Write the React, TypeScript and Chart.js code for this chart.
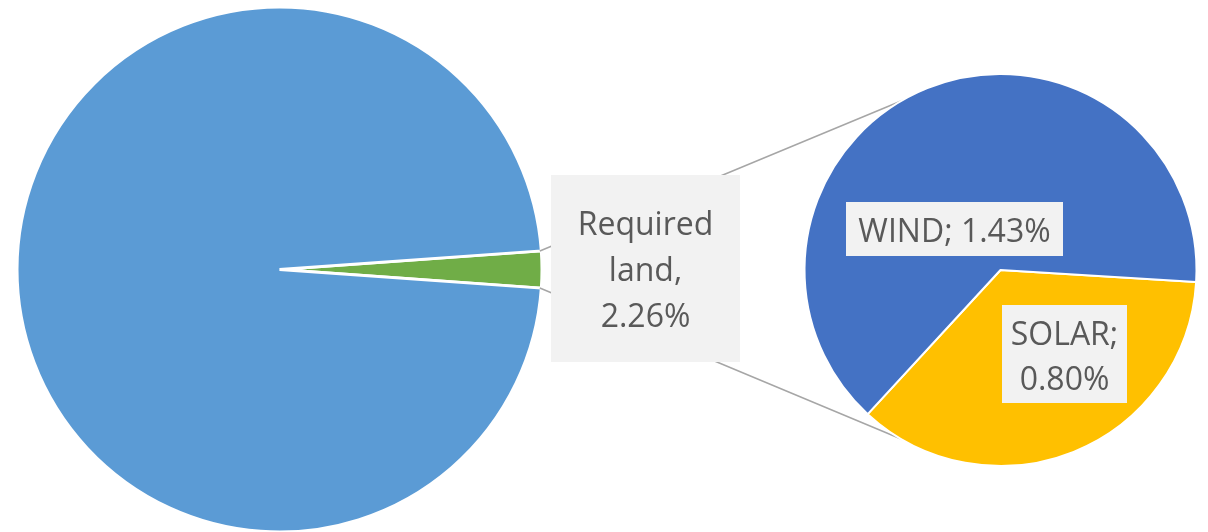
import React, { useEffect, useRef } from "react";
import { Chart, registerables } from "chart.js";
Chart.register(...registerables);

const mainCategories = ["Required land", "Other land"];
const mainValues = [2.26, 97.74];
const subCategories = ["SOLAR", "WIND"];
const subValues = [0.8, 1.43];

const W = 1208;
const H = 532;
const CH = 540;
const FONT = '"Open Sans", "Liberation Sans", sans-serif';
const TEXT = "#595959";
const BOX = "#f2f2f2";
const LINE = "#a6a6a6";

const fmt = (v: number) => v.toFixed(2) + "%";

export default function App() {
  const bigRef = useRef<HTMLCanvasElement>(null);
  const smallRef = useRef<HTMLCanvasElement>(null);

  useEffect(() => {
    const total = mainValues.reduce((a, b) => a + b, 0);
    const reqSpan = (mainValues[0] / total) * 360;
    const bigBW = 3;
    const bigSize = 528;
    const big = new Chart(bigRef.current!, {
      type: "pie",
      data: {
        labels: mainCategories,
        datasets: [
          {
            data: mainValues,
            backgroundColor: ["#70ad47", "#5b9bd5"],
            borderColor: "#ffffff",
            borderWidth: bigBW,
          },
        ],
      },
      options: {
        responsive: false,
        animation: false,
        events: [],
        rotation: 90 - reqSpan / 2,
        layout: {
          padding: { left: 15.5, top: 5.5, right: W - 15.5 - bigSize, bottom: CH - 5.5 - bigSize },
        },
        plugins: { legend: { display: false }, tooltip: { enabled: false } },
      },
    });

    const smallBW = 2;
    const smallSize = 394;
    const connectorAngle = (117.8 * Math.PI) / 180;

    const drawBoxText = (
      ctx: CanvasRenderingContext2D,
      box: [number, number, number, number],
      cx: number,
      lines: string[],
      baselines: number[]
    ) => {
      ctx.fillStyle = BOX;
      ctx.fillRect(box[0], box[1], box[2], box[3]);
      ctx.fillStyle = TEXT;
      ctx.font = `32px ${FONT}`;
      ctx.textAlign = "center";
      ctx.textBaseline = "alphabetic";
      lines.forEach((l, i) => ctx.fillText(l, cx, baselines[i]));
    };

    const pieOfPie = {
      id: "pieOfPie",
      beforeDatasetsDraw(chart: any) {
        const ctx = chart.ctx as CanvasRenderingContext2D;
        const g = big.getDatasetMeta(0).data[0] as any;
        const rg = g.outerRadius - bigBW / 2;
        const s = chart.getDatasetMeta(0).data[0] as any;
        const rs = s.outerRadius - smallBW / 2;
        ctx.save();
        ctx.strokeStyle = LINE;
        ctx.lineWidth = 1.5;
        ctx.beginPath();
        ctx.moveTo(g.x + rg * Math.cos(g.startAngle), g.y + rg * Math.sin(g.startAngle));
        ctx.lineTo(s.x + rs * Math.cos(-connectorAngle), s.y + rs * Math.sin(-connectorAngle));
        ctx.moveTo(g.x + rg * Math.cos(g.endAngle), g.y + rg * Math.sin(g.endAngle));
        ctx.lineTo(s.x + rs * Math.cos(connectorAngle), s.y + rs * Math.sin(connectorAngle));
        ctx.stroke();
        drawBoxText(
          ctx,
          [551, 175, 189, 187],
          645.5,
          ["Required", "land,", fmt(mainValues[0])],
          [235, 281, 327]
        );
        ctx.restore();
      },
      afterDatasetsDraw(chart: any) {
        const ctx = chart.ctx as CanvasRenderingContext2D;
        ctx.save();
        drawBoxText(ctx, [846, 202, 217, 54], 954.5, [`${subCategories[1]}; ${fmt(subValues[1])}`], [241.5]);
        drawBoxText(
          ctx,
          [1002, 305, 125, 98],
          1064.5,
          [`${subCategories[0]};`, fmt(subValues[0])],
          [345, 390]
        );
        ctx.restore();
      },
    };

    const small = new Chart(smallRef.current!, {
      type: "pie",
      data: {
        labels: subCategories,
        datasets: [
          {
            data: subValues,
            backgroundColor: ["#ffc000", "#4472c4"],
            borderColor: "#ffffff",
            borderWidth: smallBW,
          },
        ],
      },
      options: {
        responsive: false,
        animation: false,
        events: [],
        rotation: 93.5,
        layout: {
          padding: { left: 803.5, top: 73, right: W - 803.5 - smallSize, bottom: CH - 73 - smallSize },
        },
        plugins: { legend: { display: false }, tooltip: { enabled: false } },
      },
      plugins: [pieOfPie],
    });

    return () => {
      small.destroy();
      big.destroy();
    };
  }, []);

  const canvasStyle: React.CSSProperties = { position: "absolute", left: 0, top: 0, width: W, height: CH };
  return (
    <div
      style={{
        position: "absolute",
        left: 0,
        top: 0,
        width: W,
        height: H,
        overflow: "hidden",
        background: "#ffffff",
      }}
    >
      <canvas ref={bigRef} width={W} height={CH} style={canvasStyle} />
      <canvas ref={smallRef} width={W} height={CH} style={canvasStyle} />
    </div>
  );
}
